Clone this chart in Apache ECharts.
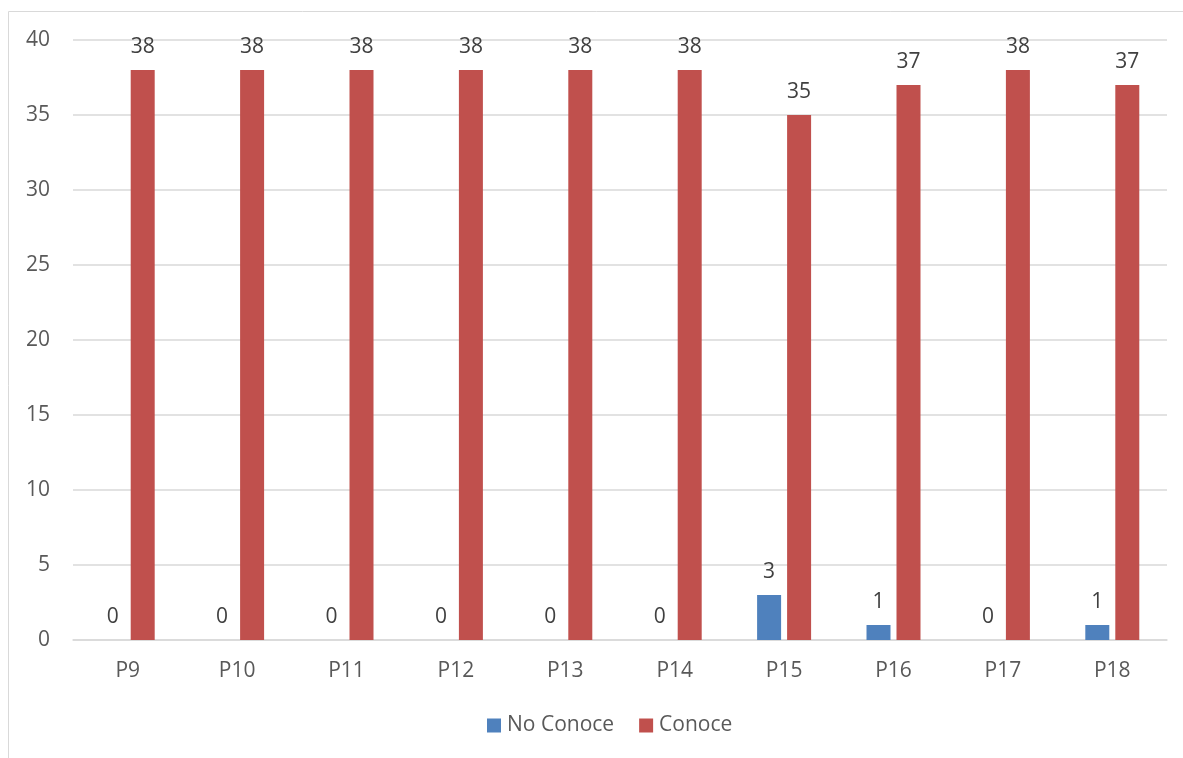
<!DOCTYPE html>
<html>
<head>
<meta charset="utf-8">
<script src="https://cdn.jsdelivr.net/npm/echarts@6/dist/echarts.min.js"></script>
<style>
html,body{margin:0;padding:0;background:#fff;}
#chart{width:1183px;height:758px;}
</style>
</head>
<body>
<div id="chart"></div>
<script>
const categories = ['P9','P10','P11','P12','P13','P14','P15','P16','P17','P18'];
const noConoce = [0,0,0,0,0,0,3,1,0,1];
const conoce = [38,38,38,38,38,38,35,37,38,37];
const yTicks = {min:0, max:40, interval:5};

const FONT = '"Open Sans", sans-serif';
const chart = echarts.init(document.getElementById('chart'));
const labelStyle = {show:true, position:'top', distance:12, color:'#404040', fontSize:21, fontFamily:FONT};
chart.setOption({
  animation:false,
  graphic:[{type:'rect', shape:{x:8.5,y:11.5,width:1200,height:800}, style:{fill:'none', stroke:'#D9D9D9', lineWidth:1}, silent:true}],
  grid:{left:73, top:40, width:1094, height:600, containLabel:false},
  legend:{
    bottom:17, left:482, itemWidth:14, itemHeight:14, itemGap:25,
    icon:'rect',
    textStyle:{color:'#595959', fontSize:21, fontFamily:FONT, padding:[0,0,0,1]},
    data:['No Conoce','Conoce']
  },
  xAxis:{
    type:'category', data:categories,
    axisLine:{lineStyle:{color:'#D9D9D9', width:1.5}},
    axisTick:{show:false},
    axisLabel:{color:'#595959', fontSize:21, fontFamily:FONT, margin:21}
  },
  yAxis:{
    type:'value', min:yTicks.min, max:yTicks.max, interval:yTicks.interval,
    axisLine:{show:false}, axisTick:{show:false},
    splitLine:{lineStyle:{color:'#D9D9D9', width:1.5}},
    axisLabel:{color:'#595959', fontSize:21, fontFamily:FONT, margin:23}
  },
  series:[
    {name:'No Conoce', type:'bar', data:noConoce, barWidth:24, barGap:'25%', itemStyle:{color:'#4F81BD'}, label:labelStyle},
    {name:'Conoce', type:'bar', data:conoce, barWidth:24, barGap:'25%', itemStyle:{color:'#C0504D'}, label:labelStyle}
  ]
});
</script>
</body>
</html>
